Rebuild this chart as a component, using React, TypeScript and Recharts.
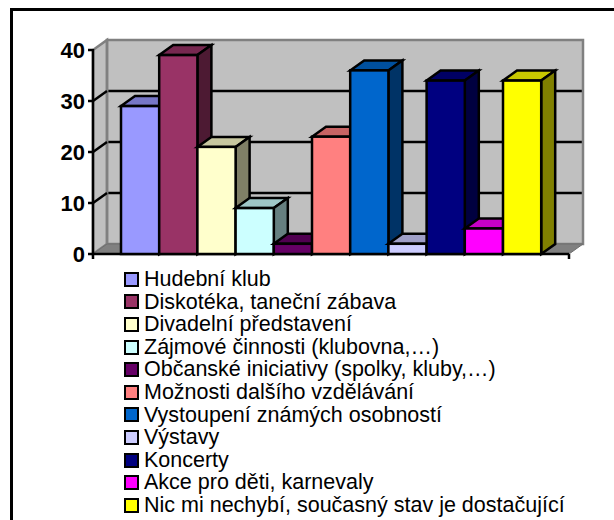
import React from 'react';
import { BarChart, Bar, XAxis, YAxis, CartesianGrid, Legend } from 'recharts';

const seriesNames = [
  'Hudební klub',
  'Diskotéka, taneční zábava',
  'Divadelní představení',
  'Zájmové činnosti (klubovna,…)',
  'Občanské iniciativy (spolky, kluby,…)',
  'Možnosti dalšího vzdělávání',
  'Vystoupení známých osobností',
  'Výstavy',
  'Koncerty',
  'Akce pro děti, karnevaly',
  'Nic mi nechybí, současný stav je dostačující',
];
const seriesValues = [29, 39, 21, 9, 2, 23, 36, 2, 34, 5, 34];
const seriesColors = ['#9999ff', '#993366', '#ffffcc', '#ccffff', '#660066', '#ff8080', '#0066cc', '#ccccff', '#000080', '#ff00ff', '#ffff00'];
const yTicks = [0, 10, 20, 30, 40];

const row: Record<string, string | number> = { category: '' };
seriesValues.forEach((v, i) => { row['s' + i] = v; });
const data = [row];

const W = 614, H = 520;
const PLOT = { left: 93, top: 50, right: 569, bottom: 254 };
const DX = 14, DY = 10;
const STROKE = 2.5;
const FONT = '"Liberation Sans", Arial, sans-serif';

function shade(hex: string, f: number) {
  const n = parseInt(hex.slice(1), 16);
  const c = (s: number) => Math.round(((n >> s) & 255) * f);
  return `rgb(${c(16)},${c(8)},${c(0)})`;
}

function Bar3D(props: any) {
  const { x, y, width, height, fill } = props;
  const r = x + width, b = y + height;
  return (
    <g stroke="#000" strokeWidth={STROKE} strokeLinejoin="miter">
      <polygon points={`${x},${y} ${x + DX},${y - DY} ${r + DX},${y - DY} ${r},${y}`} fill={shade(fill, 0.78)} />
      <polygon points={`${r},${y} ${r + DX},${y - DY} ${r + DX},${b - DY} ${r},${b}`} fill={shade(fill, 0.5)} />
      <rect x={x} y={y} width={width} height={height} fill={fill} />
    </g>
  );
}

function gridLine(p: any) {
  const { x1, x2, y1 } = p;
  const isEdge = Math.abs(y1 - PLOT.top) < 1 || Math.abs(y1 - PLOT.bottom) < 1;
  if (isEdge) {
    return <g key={p.key ?? y1} />;
  }
  return <line key={p.key ?? y1} x1={x1} x2={x2 - 1} y1={y1 - DY} y2={y1 - DY} stroke="#000" strokeWidth={STROKE} />;
}

function YTick(props: any) {
  const { x, y, payload } = props;
  const v = payload.value;
  return (
    <g>
      {v > 0 && v < 40 && (
        <line x1={PLOT.left} x2={PLOT.left + DX} y1={y} y2={y - DY} stroke="#000" strokeWidth={STROKE} />
      )}
      <text x={x} y={y} dy="0.355em" textAnchor="end" fill="#000" fontFamily={FONT} fontSize={22} fontWeight="bold">{v}</text>
    </g>
  );
}

function LegendList(props: any) {
  const payload = props.payload ?? [];
  return (
    <div style={{ fontFamily: FONT, fontSize: 21.5, color: '#000', lineHeight: '22.6px' }}>
      {payload.map((e: any) => (
        <div key={e.value} style={{ display: 'flex', alignItems: 'center', height: 22.6, whiteSpace: 'nowrap' }}>
          <span style={{ boxSizing: 'border-box', width: 15, height: 15, border: '2.5px solid #000', background: e.color, marginRight: 5, flex: 'none' }} />
          <span>{e.value}</span>
        </div>
      ))}
    </div>
  );
}

export default function App() {
  return (
    <div style={{ position: 'absolute', left: 0, top: 0, width: W, height: H, background: '#fff', overflow: 'hidden' }}>
      <div style={{ position: 'absolute', left: 10, top: 8, right: 0, height: 3, background: '#000' }} />
      <div style={{ position: 'absolute', left: 10, top: 8, bottom: 0, width: 3, background: '#000' }} />
      <div style={{ position: 'absolute', left: 0, top: 0 }}>
        <BarChart
          width={W}
          height={H}
          data={data}
          barGap={0}
          barSize={38.2}
          margin={{ left: 33, top: PLOT.top, right: W - PLOT.right, bottom: H - PLOT.bottom }}
          style={{ background: 'transparent' }}
        >
          <polygon points={`${PLOT.left},${PLOT.top} ${PLOT.left + DX},${PLOT.top - DY} ${PLOT.left + DX},${PLOT.bottom - DY} ${PLOT.left},${PLOT.bottom}`} fill="#c0c0c0" stroke="#808080" strokeWidth={STROKE} />
          <CartesianGrid
            x={PLOT.left + DX}
            y={PLOT.top - DY}
            width={PLOT.right - PLOT.left}
            height={PLOT.bottom - PLOT.top}
            fill="#c0c0c0"
            vertical={false}
            horizontal={gridLine as any}
          />
          <rect x={PLOT.left + DX} y={PLOT.top - DY} width={PLOT.right - PLOT.left} height={PLOT.bottom - PLOT.top} fill="none" stroke="#808080" strokeWidth={STROKE} />
          <polygon points={`${PLOT.left},${PLOT.bottom} ${PLOT.left + DX},${PLOT.bottom - DY} ${PLOT.right + DX},${PLOT.bottom - DY} ${PLOT.right},${PLOT.bottom}`} fill="#808080" stroke="#6e6e6e" strokeWidth={1} />
          <XAxis dataKey="category" height={0} tick={false} tickLine={false} axisLine={false} />
          <YAxis
            width={60}
            domain={[0, 40]}
            ticks={yTicks}
            interval={0}
            tickSize={5}
            tickMargin={3}
            stroke="#000"
            strokeWidth={STROKE}
            axisLine={false}
            tick={<YTick />}
          />
          {seriesNames.map((name, i) => (
            <Bar key={name} dataKey={'s' + i} name={name} fill={seriesColors[i]} isAnimationActive={false} shape={<Bar3D />} />
          ))}
          <line x1={PLOT.left} x2={PLOT.left} y1={PLOT.top - 1} y2={PLOT.bottom + 5} stroke="#000" strokeWidth={STROKE} />
          <line x1={PLOT.left} x2={PLOT.right} y1={PLOT.bottom} y2={PLOT.bottom} stroke="#000" strokeWidth={STROKE} />
          <line x1={PLOT.right} x2={PLOT.right} y1={PLOT.bottom} y2={PLOT.bottom + 5} stroke="#000" strokeWidth={STROKE} />
          <Legend
            layout="vertical"
            align="center"
            verticalAlign="middle"
            itemSorter={null as any}
            content={<LegendList />}
            wrapperStyle={{ left: 124, top: 268, width: 480, bottom: 'auto', right: 'auto', margin: 0 }}
          />
        </BarChart>
      </div>
    </div>
  );
}
